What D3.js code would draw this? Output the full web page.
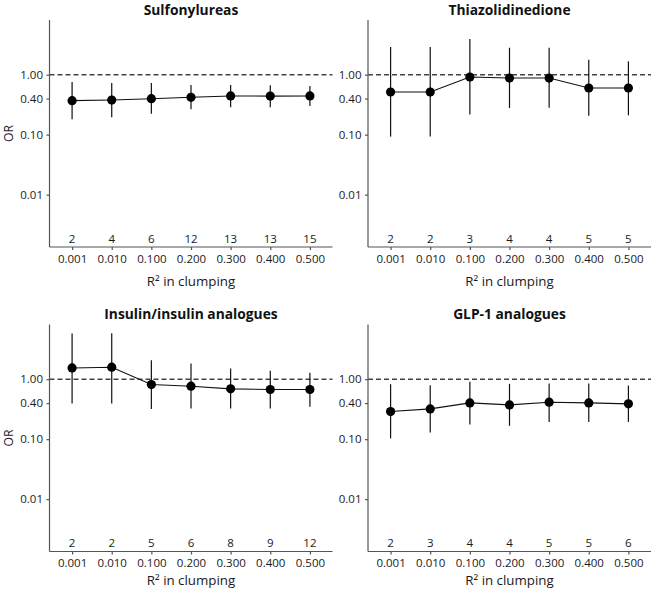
<!DOCTYPE html>
<html><head><meta charset="utf-8">
<script src="https://cdn.jsdelivr.net/npm/d3@7/dist/d3.min.js"></script>
<style>body{margin:0;background:#fff}svg{display:block}text{font-family:"Open Sans",sans-serif}</style>
</head><body>
<script>
const categories = ["0.001","0.010","0.100","0.200","0.300","0.400","0.500"];
const yTicks = [0.01, 0.10, 0.40, 1.00];
const titles = ["Sulfonylureas","Thiazolidinedione","Insulin/insulin analogues","GLP-1 analogues"];
const orSulf  = [0.369,0.378,0.398,0.42,0.442,0.44,0.442];
const loSulf  = [0.18,0.195,0.224,0.265,0.286,0.286,0.30];
const hiSulf  = [0.755,0.727,0.727,0.673,0.673,0.67,0.648];
const nSulf   = [2,4,6,12,13,13,15];
const orThia  = [0.515,0.515,0.915,0.88,0.88,0.60,0.60];
const loThia  = [0.093,0.093,0.216,0.279,0.282,0.207,0.21];
const hiThia  = [2.9,2.9,3.94,2.82,2.82,1.78,1.67];
const nThia   = [2,2,3,4,4,5,5];
const orIns   = [1.54,1.585,0.815,0.764,0.69,0.673,0.673];
const loIns   = [0.393,0.393,0.32,0.325,0.325,0.325,0.346];
const hiIns   = [5.77,5.85,2.07,1.83,1.51,1.38,1.28];
const nIns    = [2,2,5,6,8,9,12];
const orGlp   = [0.289,0.32,0.403,0.373,0.414,0.403,0.388];
const loGlp   = [0.103,0.129,0.175,0.167,0.194,0.194,0.194];
const hiGlp   = [0.826,0.794,0.903,0.836,0.847,0.847,0.784];
const nGlp    = [2,3,4,4,5,5,6];
const countY = 0.00185;

const panels = [
  {title:titles[0], or:orSulf, lo:loSulf, hi:hiSulf, n:nSulf, x0:49.5, y0:0, showOR:true, xt:286},
  {title:titles[1], or:orThia, lo:loThia, hi:hiThia, n:nThia, x0:368, y0:0, showOR:false, xt:286},
  {title:titles[2], or:orIns, lo:loIns, hi:hiIns, n:nIns, x0:49.5, y0:304.5, showOR:true, xt:280.5},
  {title:titles[3], or:orGlp, lo:loGlp, hi:hiGlp, n:nGlp, x0:368, y0:304.5, showOR:false, xt:280.5}
];

const svg = d3.select("body").append("svg").attr("width",652).attr("height",592);
const W = 283, pTop = 20, pBot = 247;
const axisCol = "#555", textCol = "#1a1a1a";

panels.forEach(p => {
  const g = svg.append("g").attr("transform",`translate(${p.x0},${p.y0})`);
  const x = d3.scalePoint().domain(categories).range([0, W]).padding(0.57);
  const y = d3.scaleLog().domain([0.00134, 8.17]).range([pBot, pTop]);

  g.append("line").attr("x1",0).attr("x2",W).attr("y1",y(1)).attr("y2",y(1))
    .attr("stroke","#444").attr("stroke-width",1.4).attr("stroke-dasharray","5,3");

  const ya = g.append("g").call(d3.axisLeft(y).tickValues(yTicks).tickFormat(d3.format(".2f")).tickSize(3).tickPadding(3.5));
  const xa = g.append("g").attr("transform",`translate(0,${pBot})`).call(d3.axisBottom(x).tickSize(3).tickPadding(4.5));
  [ya,xa].forEach(a => {
    a.select(".domain").attr("stroke",axisCol).attr("stroke-width",1.2);
    a.selectAll(".tick line").attr("stroke",axisCol).attr("stroke-width",1.2);
    a.selectAll(".tick text").attr("fill",textCol).style("font-size","11.5px").style("font-family","'Open Sans',sans-serif");
  });
  ya.select(".domain").attr("d",`M0,${pTop}V${pBot}`);
  xa.select(".domain").attr("d",`M0,0H${W}`);

  g.selectAll(".eb").data(categories).join("line")
    .attr("x1",d=>x(d)).attr("x2",d=>x(d))
    .attr("y1",(d,i)=>y(p.lo[i])).attr("y2",(d,i)=>y(p.hi[i]))
    .attr("stroke","#111").attr("stroke-width",1.2);

  g.append("path").datum(categories)
    .attr("d", d3.line().x(d=>x(d)).y((d,i)=>y(p.or[i])))
    .attr("fill","none").attr("stroke","#111").attr("stroke-width",1.1);

  g.selectAll(".pt").data(categories).join("circle")
    .attr("cx",d=>x(d)).attr("cy",(d,i)=>y(p.or[i])).attr("r",4.6).attr("fill","#000");

  g.selectAll(".cnt").data(categories).join("text")
    .attr("x",d=>x(d)).attr("y",y(countY)).attr("dy","0.36em")
    .attr("text-anchor","middle").attr("fill",textCol).style("font-size","11.5px")
    .text((d,i)=>p.n[i]);

  g.append("text").attr("x",W/2).attr("y",14.8).attr("text-anchor","middle")
    .style("font-size","13.8px").style("font-weight","bold").attr("fill","#111").text(p.title);

  g.append("text").attr("x",W/2).attr("y",p.xt).attr("text-anchor","middle")
    .style("font-size","13.3px").attr("fill",textCol)
    .text("R\u00B2 in clumping");

  if (p.showOR) {
    g.append("text").attr("transform",`translate(${-49.5+13.2},${(pTop+pBot)/2}) rotate(-90)`)
      .attr("text-anchor","middle").style("font-size","12.2px").attr("fill",textCol).text("OR");
  }
});
</script>
</body></html>
